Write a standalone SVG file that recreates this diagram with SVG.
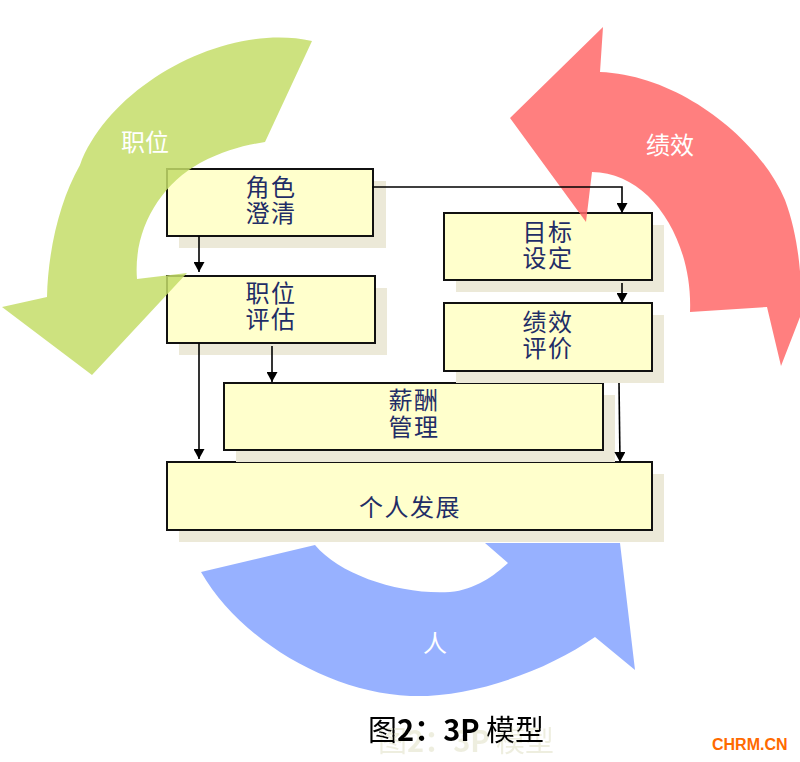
<svg xmlns="http://www.w3.org/2000/svg" width="800" height="762" viewBox="0 0 800 762">
<style>
.shadow{fill:#ECE9D8;}
.box{fill:#FFFFCC;stroke:#111;stroke-width:2;}
.bt{font-family:"Noto Sans CJK SC","Noto Sans",sans-serif;font-size:24px;fill:#1F2D66;text-anchor:middle;letter-spacing:1.5px;}
.al{font-family:"Noto Sans CJK SC","Noto Sans",sans-serif;font-size:24px;fill:#FFFFFF;text-anchor:middle;}
.conn{fill:none;stroke:#000;stroke-width:1.6;marker-end:url(#ah);}
.arr{opacity:0.85;}
</style>
<defs>
<marker id="ah" markerWidth="10" markerHeight="11" refX="10" refY="5.5" orient="auto" markerUnits="userSpaceOnUse">
<path d="M0,0 L10,5.5 L0,11 z" fill="#000"/>
</marker>
<filter id="refl" x="-10%" y="-30%" width="130%" height="180%">
<feFlood flood-color="#EEEEDF"/>
<feComposite in2="SourceAlpha" operator="in"/>
<feOffset dx="10" dy="11" result="s"/>
<feMerge><feMergeNode in="s"/><feMergeNode in="SourceGraphic"/></feMerge>
</filter>
</defs>
<rect width="800" height="762" fill="#FFFFFF"/>

<g id="node-geren">
<rect class="shadow" x="179" y="474" width="485" height="68"/>
<rect class="box" x="167" y="462" width="485" height="68"/>
<text class="bt" x="410" y="516">个人发展</text>
</g>
<g id="node-xinchou">
<rect class="shadow" x="236" y="395" width="379" height="67"/>
<rect class="box" x="224" y="383" width="379" height="67"/>
<text class="bt" x="414" y="409">薪酬<tspan x="414" dy="27">管理</tspan></text>
</g>
<g id="node-juese">
<rect class="shadow" x="179" y="181" width="207" height="67"/>
<rect class="box" x="167" y="169" width="206" height="67"/>
<text class="bt" x="271" y="196">角色<tspan x="271" dy="26">澄清</tspan></text>
</g>
<g id="node-zhiwei">
<rect class="shadow" x="179" y="288" width="208" height="67"/>
<rect class="box" x="167" y="276" width="208" height="67"/>
<text class="bt" x="271" y="302">职位<tspan x="271" dy="26">评估</tspan></text>
</g>
<g id="node-mubiao">
<rect class="shadow" x="456" y="225" width="208" height="67"/>
<rect class="box" x="444" y="213" width="208" height="67"/>
<text class="bt" x="548" y="241">目标<tspan x="548" dy="26">设定</tspan></text>
</g>
<g id="node-jixiao">
<rect class="shadow" x="456" y="315" width="208" height="68"/>
<rect class="box" x="444" y="303" width="208" height="68"/>
<text class="bt" x="548" y="331">绩效<tspan x="548" dy="26">评价</tspan></text>
</g>

<g id="cycle-arrows">
<g id="arrow-zhiwei">
<path class="arr" fill="#C4DD69" d="M312,41 C225,22 110,85 80,165 C60,200 48,250 47,297 L2,307 L92,375 L187,273 L137,279 C133,230 160,185 200,163 C225,150 245,145 265,142 Z"/>
<text class="al" x="145" y="151">职位</text>
</g>
<g id="arrow-jixiao">
<path class="arr" fill="#FF6868" d="M600,72 C680,75 760,140 785,200 C800,240 803,290 800,317 L781,366 L767,307 L690,312 C693,240 650,172 592,172 L586,222 L510,118 L603,27 Z"/>
<text class="al" x="670" y="154">绩效</text>
</g>
<g id="arrow-ren">
<path class="arr" fill="#85A3FF" d="M201,572 L315,545 C340,575 400,595 450,592 C475,590 495,575 508,563 L485,543 L620,543 L635,670 L595,637 C545,672 470,698 410,696 C330,693 240,640 201,572 Z"/>
<text class="al" x="435" y="652">人</text>
</g>
</g>

<g id="connectors">
<path class="conn" d="M372,187 H622 V213"/>
<path class="conn" d="M199,236 V272"/>
<path class="conn" d="M199,343 V459"/>
<path class="conn" d="M272,346 V382"/>
<path class="conn" d="M622,283 V303"/>
<path class="conn" d="M619,383 L620,462"/>
</g>

<g id="caption">
<text x="368" y="741" font-family="'Noto Sans CJK SC','Noto Sans',sans-serif" font-size="29" fill="#000" filter="url(#refl)">图<tspan font-weight="bold">2：3P</tspan> 模型</text>
</g>
<text x="712" y="750" font-family="'Liberation Sans',Arial,sans-serif" font-size="16" font-weight="bold" fill="#FF6A00">CHRM.CN</text>
</svg>
